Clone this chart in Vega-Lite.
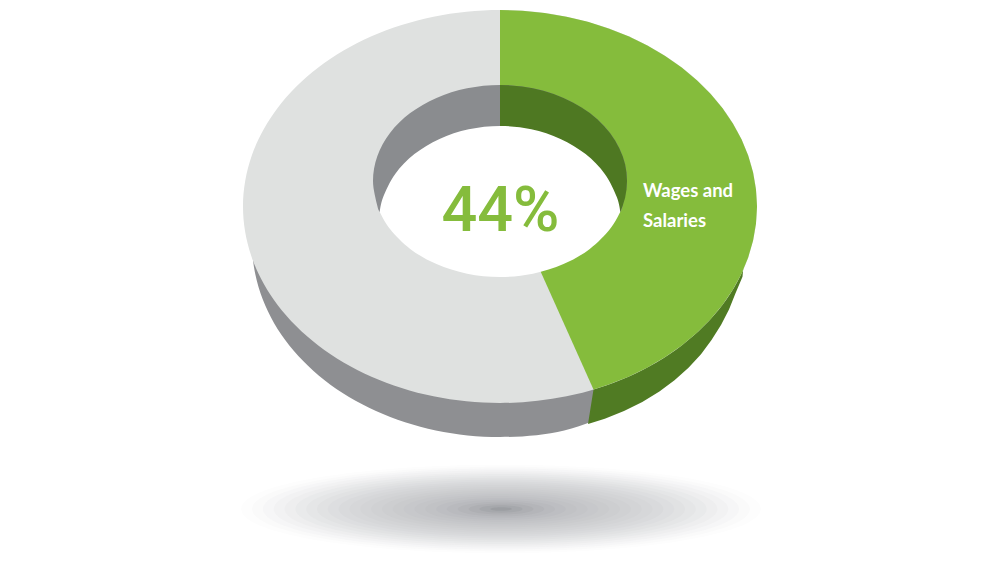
{
"$schema":"https://vega.github.io/schema/vega-lite/v6.json",
"width":1000,"height":563,"padding":0,"autosize":{"type":"none"},"background":"white",
"config":{"view":{"stroke":null}},
"datasets":{
"shadow":[{"x":501,"y":509,"s":292882,"c":"#ffffff"},{"x":501,"y":509,"s":269920,"c":"#fdfdfd"},{"x":501,"y":509,"s":247895,"c":"#fafafa"},{"x":501,"y":509,"s":226808,"c":"#f6f6f7"},{"x":501,"y":509,"s":206657,"c":"#f2f2f3"},{"x":501,"y":509,"s":187444,"c":"#eeeeef"},{"x":501,"y":509,"s":169169,"c":"#e9eaeb"},{"x":501,"y":509,"s":151830,"c":"#e5e6e7"},{"x":501,"y":509,"s":135429,"c":"#e1e2e3"},{"x":501,"y":509,"s":119964,"c":"#dddee0"},{"x":501,"y":509,"s":105437,"c":"#d9dadc"},{"x":501,"y":509,"s":91848,"c":"#d6d7d9"},{"x":501,"y":509,"s":79196,"c":"#d3d4d6"},{"x":501,"y":509,"s":67480,"c":"#d0d1d3"},{"x":501,"y":509,"s":56702,"c":"#cdced0"},{"x":501,"y":509,"s":46861,"c":"#cacbcd"},{"x":501,"y":509,"s":37958,"c":"#c7c8cb"},{"x":501,"y":509,"s":29992,"c":"#c4c5c8"},{"x":501,"y":509,"s":22961,"c":"#c1c2c5"},{"x":501,"y":509,"s":16870,"c":"#bdbec2"},{"x":501,"y":509,"s":11715,"c":"#b9babe"},{"x":501,"y":509,"s":7498,"c":"#b4b5b9"},{"x":501,"y":509,"s":4217,"c":"#aeafb3"},{"x":501,"y":509,"s":1874,"c":"#a6a8ac"},{"x":501,"y":509,"s":469,"c":"#9c9ea2"}],
"wall":[{"o":0,"x":500,"y":49},{"o":1,"x":564.2,"y":55.6},{"o":2,"x":624,"y":75},{"o":3,"x":675.4,"y":105.8},{"o":4,"x":705,"y":146},{"o":5,"x":725,"y":192.8},{"o":6,"x":735,"y":243},{"o":7,"x":730,"y":293.2},{"o":8,"x":706,"y":340},{"o":9,"x":670,"y":380.2},{"o":10,"x":620,"y":409},{"o":11,"x":564.2,"y":430.4},{"o":12,"x":500,"y":437},{"o":13,"x":435.8,"y":430.4},{"o":14,"x":376,"y":411},{"o":15,"x":324.6,"y":380.2},{"o":16,"x":285.2,"y":340},{"o":17,"x":260.5,"y":293.2},{"o":18,"x":252,"y":243},{"o":19,"x":260.5,"y":192.8},{"o":20,"x":285.2,"y":146},{"o":21,"x":324.6,"y":105.8},{"o":22,"x":376,"y":75},{"o":23,"x":435.8,"y":55.6}],
"wallGreen":[{"o":0,"x":650,"y":250},{"o":1,"x":744,"y":243},{"o":2,"x":744,"y":260},{"o":3,"x":742.5,"y":276.7},{"o":4,"x":735.5,"y":293.2},{"o":5,"x":729,"y":309.4},{"o":6,"x":721,"y":325},{"o":7,"x":711.5,"y":340},{"o":8,"x":701,"y":354.3},{"o":9,"x":688.5,"y":367.7},{"o":10,"x":674.5,"y":380.2},{"o":11,"x":659.4,"y":391.6},{"o":12,"x":642.3,"y":401.9},{"o":13,"x":624,"y":411},{"o":14,"x":604.8,"y":418.8},{"o":15,"x":588,"y":424},{"o":16,"x":593.5,"y":389.5}],
"surface":[{"o":0,"x":500,"y":10},{"o":1,"x":566.5,"y":16.7},{"o":2,"x":628.5,"y":36.3},{"o":3,"x":681.7,"y":67.6},{"o":4,"x":722.6,"y":108.25},{"o":5,"x":748.2,"y":155.6},{"o":6,"x":757,"y":206.5},{"o":7,"x":748.2,"y":257.4},{"o":8,"x":722.6,"y":304.75},{"o":9,"x":681.7,"y":345.4},{"o":10,"x":628.5,"y":376.7},{"o":11,"x":566.5,"y":396.3},{"o":12,"x":500,"y":403},{"o":13,"x":433.5,"y":396.3},{"o":14,"x":371.5,"y":376.7},{"o":15,"x":318.3,"y":345.4},{"o":16,"x":277.4,"y":304.75},{"o":17,"x":251.8,"y":257.4},{"o":18,"x":243,"y":206.5},{"o":19,"x":251.8,"y":155.6},{"o":20,"x":277.4,"y":108.25},{"o":21,"x":318.3,"y":67.6},{"o":22,"x":371.5,"y":36.3},{"o":23,"x":433.5,"y":16.7}],
"wedge":[{"o":0,"x":500,"y":181},{"o":1,"x":500,"y":10},{"o":2,"x":522.4,"y":10.7},{"o":3,"x":544.6,"y":13},{"o":4,"x":566.5,"y":16.7},{"o":5,"x":587.9,"y":21.8},{"o":6,"x":608.6,"y":28.4},{"o":7,"x":628.5,"y":36.3},{"o":8,"x":647.4,"y":45.5},{"o":9,"x":665.2,"y":56},{"o":10,"x":681.7,"y":67.6},{"o":11,"x":696.9,"y":80.2},{"o":12,"x":710.5,"y":93.8},{"o":13,"x":722.6,"y":108.25},{"o":14,"x":732.9,"y":123.5},{"o":15,"x":741.5,"y":139.3},{"o":16,"x":748.2,"y":155.6},{"o":17,"x":753.1,"y":172.4},{"o":18,"x":756,"y":189.4},{"o":19,"x":757,"y":206.5},{"o":20,"x":756,"y":223.6},{"o":21,"x":753.1,"y":240.6},{"o":22,"x":748.2,"y":257.4},{"o":23,"x":741.5,"y":273.7},{"o":24,"x":732.9,"y":289.5},{"o":25,"x":722.6,"y":304.75},{"o":26,"x":710.5,"y":319.2},{"o":27,"x":696.9,"y":332.8},{"o":28,"x":681.7,"y":345.4},{"o":29,"x":665.2,"y":357},{"o":30,"x":647.4,"y":367.5},{"o":31,"x":628.5,"y":376.7},{"o":32,"x":608.6,"y":384.6},{"o":33,"x":593.5,"y":389.5}],
"hole":[{"o":0,"x":379.8,"y":212},{"o":1,"x":377.3,"y":205.8},{"o":2,"x":373,"y":181},{"o":3,"x":377.3,"y":156.2},{"o":4,"x":390,"y":133},{"o":5,"x":410.2,"y":113.1},{"o":6,"x":436.5,"y":97.9},{"o":7,"x":467.1,"y":88.3},{"o":8,"x":500,"y":85},{"o":9,"x":532.9,"y":88.3},{"o":10,"x":563.5,"y":97.9},{"o":11,"x":589.8,"y":113.1},{"o":12,"x":610,"y":133},{"o":13,"x":622.7,"y":156.2},{"o":14,"x":627,"y":181},{"o":15,"x":622.7,"y":205.8},{"o":16,"x":620.2,"y":212}],
"holeGreen":[{"o":0,"x":500,"y":212},{"o":1,"x":500,"y":85},{"o":2,"x":511.1,"y":85.4},{"o":3,"x":522.1,"y":86.5},{"o":4,"x":532.9,"y":88.3},{"o":5,"x":543.4,"y":90.8},{"o":6,"x":553.7,"y":94},{"o":7,"x":563.5,"y":97.9},{"o":8,"x":572.8,"y":102.4},{"o":9,"x":581.6,"y":107.5},{"o":10,"x":589.8,"y":113.1},{"o":11,"x":597.3,"y":119.3},{"o":12,"x":604,"y":125.9},{"o":13,"x":610,"y":133},{"o":14,"x":615.1,"y":140.4},{"o":15,"x":619.3,"y":148.2},{"o":16,"x":622.7,"y":156.2},{"o":17,"x":625.1,"y":164.3},{"o":18,"x":626.5,"y":172.6},{"o":19,"x":627,"y":181},{"o":20,"x":626.5,"y":189.4},{"o":21,"x":625.1,"y":197.7},{"o":22,"x":622.7,"y":205.8},{"o":23,"x":620.2,"y":212}],
"floorTop":[{"o":0,"x":379.7,"y":212},{"o":1,"x":383.1,"y":197.2},{"o":2,"x":395.2,"y":174},{"o":3,"x":414.4,"y":154.1},{"o":4,"x":439.5,"y":138.9},{"o":5,"x":468.7,"y":129.3},{"o":6,"x":500,"y":126},{"o":7,"x":531.3,"y":129.3},{"o":8,"x":560.5,"y":138.9},{"o":9,"x":585.6,"y":154.1},{"o":10,"x":604.8,"y":174},{"o":11,"x":616.9,"y":197.2},{"o":12,"x":620.3,"y":212}],
"floorBottom":[{"o":0,"x":620.2,"y":212},{"o":1,"x":610,"y":229},{"o":2,"x":589.8,"y":248.9},{"o":3,"x":563.5,"y":264.1},{"o":4,"x":532.9,"y":273.7},{"o":5,"x":500,"y":277},{"o":6,"x":467.1,"y":273.7},{"o":7,"x":436.5,"y":264.1},{"o":8,"x":410.2,"y":248.9},{"o":9,"x":390,"y":229},{"o":10,"x":379.8,"y":212}],
"big":[{"x":500.5,"y":231,"label":"44%"}],
"small":[{"x":643,"y":197,"label":"Wages and"},{"x":643,"y":227,"label":"Salaries"}]
},
"encoding":{
"x":{"field":"x","type":"quantitative","scale":{"domain":[0,1000]},"axis":null},
"y":{"field":"y","type":"quantitative","scale":{"domain":[563,0]},"axis":null}
},
"layer":[
{"data":{"name":"shadow"},"mark":{"type":"point","shape":"M-1,0A1,0.17,0,1,1,1,0A1,0.17,0,1,1,-1,0Z","filled":true,"opacity":1,"strokeWidth":0},"encoding":{"size":{"field":"s","type":"quantitative","scale":null,"legend":null},"fill":{"field":"c","type":"nominal","scale":null,"legend":null},"order":{"field":"s","sort":"descending"}}},
{"data":{"name":"wall"},"mark":{"type":"line","interpolate":"cardinal-closed","fill":"#8e8f92","strokeWidth":0},"encoding":{"order":{"field":"o"}}},
{"data":{"name":"wallGreen"},"mark":{"type":"line","fill":"#507b23","strokeWidth":0},"encoding":{"order":{"field":"o"}}},
{"data":{"name":"surface"},"mark":{"type":"line","interpolate":"cardinal-closed","fill":"#dfe1e0","strokeWidth":0},"encoding":{"order":{"field":"o"}}},
{"data":{"name":"wedge"},"mark":{"type":"line","fill":"#85bc3c","strokeWidth":0},"encoding":{"order":{"field":"o"}}},
{"data":{"name":"floorBottom"},"mark":{"type":"line","interpolate":"cardinal","fill":"#ffffff","strokeWidth":0},"encoding":{"order":{"field":"o"}}},
{"data":{"name":"hole"},"mark":{"type":"line","interpolate":"cardinal","fill":"#8a8c8f","strokeWidth":0},"encoding":{"order":{"field":"o"}}},
{"data":{"name":"holeGreen"},"mark":{"type":"line","fill":"#4e7822","strokeWidth":0},"encoding":{"order":{"field":"o"}}},
{"data":{"name":"floorTop"},"mark":{"type":"line","interpolate":"cardinal","fill":"#ffffff","strokeWidth":0},"encoding":{"order":{"field":"o"}}},
{"data":{"name":"big"},"mark":{"type":"text","font":"Roboto","fontSize":63,"fontWeight":500,"align":"center","baseline":"alphabetic","fill":"#85bc3c"},"encoding":{"text":{"field":"label"}}},
{"data":{"name":"small"},"mark":{"type":"text","font":"Lato","fontSize":18.5,"fontWeight":"bold","align":"left","baseline":"alphabetic","fill":"#ffffff"},"encoding":{"text":{"field":"label"}}}
]
}
